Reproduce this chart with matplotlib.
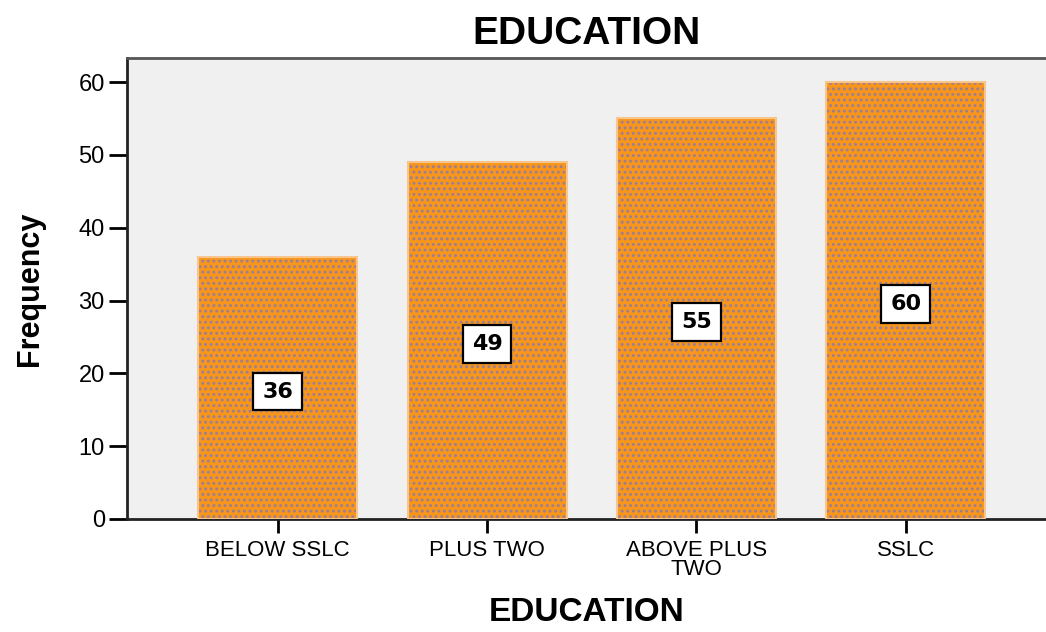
import matplotlib
matplotlib.use("Agg")
import matplotlib.pyplot as plt

# Frequency of respondents by education level
categories = ["BELOW SSLC", "PLUS TWO", "ABOVE PLUS\nTWO", "SSLC"]
frequency = [36, 49, 55, 60]
y_ticks = [0, 10, 20, 30, 40, 50, 60]

BAR_ORANGE = "#F8961C"
DOT_COLOR = "#9A7E96"
BAR_EDGE = "#F9C58E"
PLOT_BG = "#F0F0F0"

plt.rcParams["font.family"] = ["Liberation Sans", "DejaVu Sans"]
plt.rcParams["hatch.linewidth"] = 1.3

fig = plt.figure(figsize=(10.46, 6.32), dpi=100)
ax = fig.add_axes([0.1214, 0.1788, 0.8786, 0.7294])
ax.set_facecolor(PLOT_BG)

x = range(len(categories))
# dotted fill first, then a soft outline on top
ax.bar(x, frequency, width=0.76, color=BAR_ORANGE, edgecolor=DOT_COLOR,
       hatch="...", linewidth=0, zorder=2)
ax.bar(x, frequency, width=0.76, fill=False, edgecolor=BAR_EDGE,
       linewidth=1.5, zorder=3)

for xi, v in zip(x, frequency):
    ax.text(xi, v / 2 - 0.5, f"{v}", ha="center", va="center",
            fontsize=16, fontweight="bold", family="DejaVu Sans",
            bbox=dict(boxstyle="square,pad=0.4", facecolor="white",
                      edgecolor="black", linewidth=1.6),
            zorder=4)

ax.set_xlim(-0.72, 3.67)
ax.set_ylim(0, 63.3)
ax.set_yticks(y_ticks)
ax.set_xticks(list(x))
ax.set_xticklabels(categories)
for t in ax.get_xticklabels():
    t.set_linespacing(0.9)

ax.tick_params(axis="y", length=13, width=2, pad=3, labelsize=17)
ax.tick_params(axis="x", length=10, width=2, pad=5, labelsize=16)

for side in ["left", "bottom"]:
    ax.spines[side].set_linewidth(2)
    ax.spines[side].set_color("#222222")
ax.spines["top"].set_linewidth(2)
ax.spines["top"].set_color("#555555")
ax.spines["right"].set_visible(False)

ax.set_title("EDUCATION", fontsize=28, fontweight="bold", pad=10)
ax.set_xlabel("EDUCATION", fontsize=24, fontweight="bold", labelpad=12)
ax.set_ylabel("Frequency", fontsize=22, fontweight="bold", labelpad=24)

fig.savefig("out.png", dpi=100, facecolor="white")
